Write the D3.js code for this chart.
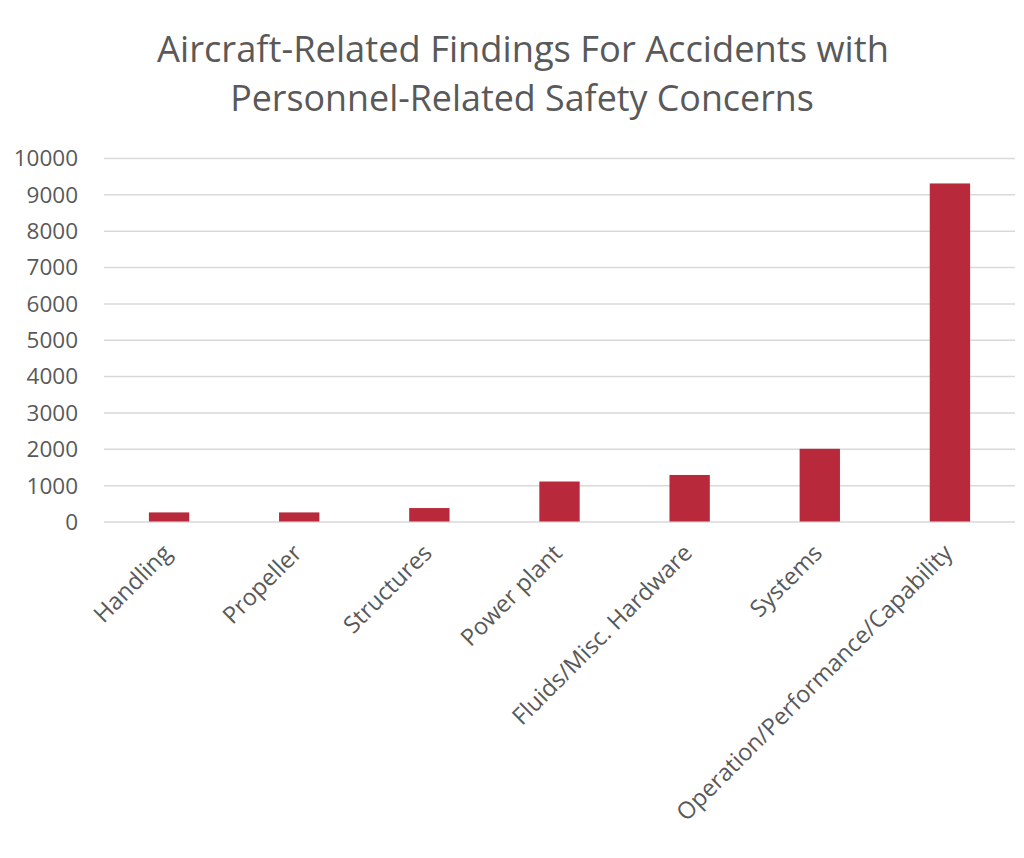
<!DOCTYPE html>
<html>
<head>
<meta charset="utf-8">
<script src="https://cdn.jsdelivr.net/npm/d3@7"></script>
<style>
  html, body { margin: 0; padding: 0; background: #fff; }
  svg { display: block; }
  text { font-family: "Open Sans", sans-serif; fill: #595959; }
</style>
</head>
<body>
<svg id="chart" width="1024" height="858"></svg>
<script>
const categories = ["Handling", "Propeller", "Structures", "Power plant", "Fluids/Misc. Hardware", "Systems", "Operation/Performance/Capability"];
const values = [250, 250, 370, 1100, 1280, 2000, 9300];
const yTicks = [0, 1000, 2000, 3000, 4000, 5000, 6000, 7000, 8000, 9000, 10000];
const titleLines = ["Aircraft-Related Findings For Accidents with", "Personnel-Related Safety Concerns"];

const svg = d3.select("#chart");
const plot = { left: 104, right: 1015, top: 158, bottom: 521.5 };

const x = d3.scaleBand()
  .domain(categories)
  .range([plot.left, plot.right])
  .paddingInner(0.69)
  .paddingOuter(0.345);

const y = d3.scaleLinear()
  .domain([0, 10000])
  .range([plot.bottom, plot.top]);

// Title
const titleTargets = [{ w: 732, cx: 523, y: 62 }, { w: 584, cx: 522, y: 111 }];
titleLines.forEach((t, i) => {
  const el = svg.append("text")
    .attr("x", titleTargets[i].cx)
    .attr("y", titleTargets[i].y)
    .attr("text-anchor", "middle")
    .style("font-size", "32px")
    .text(t);
  const len = el.node().getComputedTextLength();
  el.style("font-size", (32 * titleTargets[i].w / len).toFixed(2) + "px");
});

// Gridlines + y axis labels
const yAxis = d3.axisLeft(y).tickValues(yTicks).tickSize(-(plot.right - plot.left)).tickPadding(26).tickFormat(d3.format("d"));
const gy = svg.append("g").attr("transform", `translate(${plot.left},0)`).call(yAxis);
gy.select(".domain").remove();
gy.selectAll(".tick line").attr("stroke", "#D9D9D9").attr("stroke-width", 1.5);
gy.selectAll(".tick text")
  .style("font-size", "22.5px")
  .style("fill", "#595959")
  .attr("dy", "0.35em");

// Bars
svg.append("g").selectAll("rect")
  .data(categories.map((c, i) => ({ c, v: values[i] })))
  .join("rect")
  .attr("x", d => x(d.c))
  .attr("width", x.bandwidth())
  .attr("y", d => y(d.v))
  .attr("height", d => y(0) - y(d.v))
  .attr("fill", "#B82A3B");

// X axis labels
const xAxis = d3.axisBottom(x).tickSize(0).tickPadding(0);
const gx = svg.append("g").attr("transform", `translate(0,${plot.bottom})`).call(xAxis);
gx.select(".domain").remove();
gx.selectAll(".tick text")
  .style("font-size", "23.5px")
  .style("fill", "#595959")
  .attr("text-anchor", "end")
  .attr("dy", "0")
  .attr("transform", "translate(4,33) rotate(-45)");
</script>
</body>
</html>
